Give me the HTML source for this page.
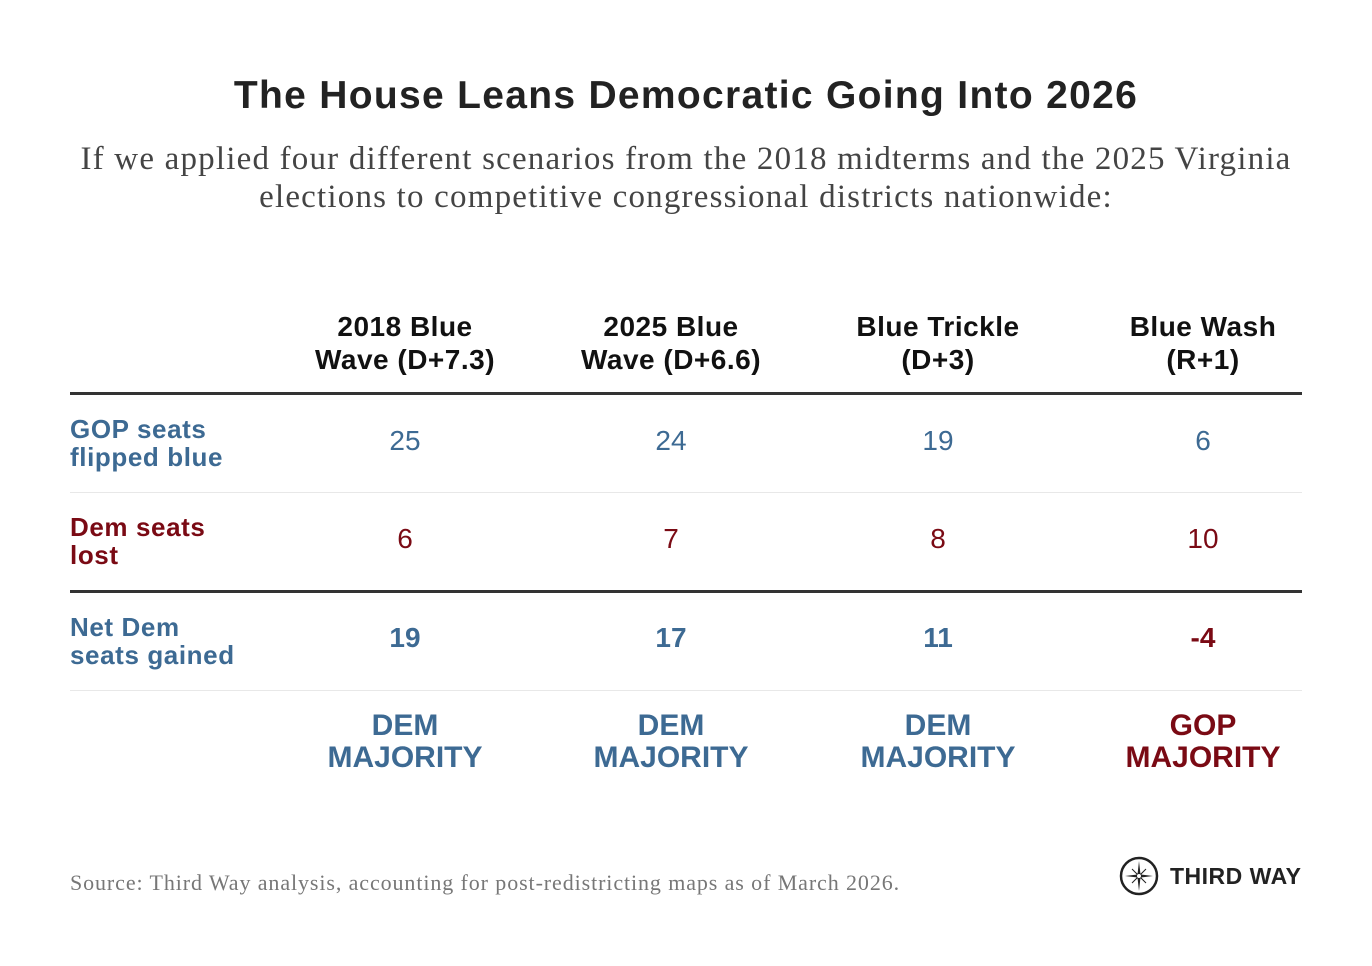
<!DOCTYPE html>
<html><head><meta charset="utf-8"><style>
body{margin:0;width:1372px;height:966px;background:#fff;position:relative;font-family:"Liberation Sans",sans-serif;overflow:hidden}
.a{position:absolute;white-space:nowrap}
.c{position:absolute;text-align:center;transform:translateX(-50%)}
.t{font-weight:bold;font-size:39px;color:#222;left:0;width:1372px;text-align:center;top:74px;letter-spacing:1.3px}
.sub{font-family:"Liberation Serif",serif;font-size:33px;color:#444;left:0;width:1372px;text-align:center;top:140px;line-height:38px;letter-spacing:1.2px}
.h{font-weight:bold;font-size:28px;color:#111;line-height:33px;top:310px;width:260px;letter-spacing:0.5px}
.lab{font-weight:bold;font-size:26px;line-height:28px;left:70px;letter-spacing:0.6px}
.b{color:#3d6a93}.r{color:#7a0a14}
.n{font-size:28px;width:100px}
.m{font-weight:bold;font-size:30px;line-height:32px;top:710px;width:260px}
.line{position:absolute;left:70px;width:1232px}
</style></head><body>
<div class="a t">The House Leans Democratic Going Into 2026</div>
<div class="a sub">If we applied four different scenarios from the 2018 midterms and the 2025 Virginia<br>elections to competitive congressional districts nationwide:</div>

<div class="c h" style="left:405px">2018 Blue<br>Wave (D+7.3)</div>
<div class="c h" style="left:671px">2025 Blue<br>Wave (D+6.6)</div>
<div class="c h" style="left:938px">Blue Trickle<br>(D+3)</div>
<div class="c h" style="left:1203px">Blue Wash<br>(R+1)</div>

<div class="line" style="top:392px;height:3px;background:#333"></div>
<div class="line" style="top:492px;height:1px;background:#e8e8e8"></div>
<div class="line" style="top:590px;height:3px;background:#333"></div>
<div class="line" style="top:690px;height:1px;background:#e8e8e8"></div>

<div class="a lab b" style="top:415px">GOP seats<br>flipped blue</div>
<div class="a lab r" style="top:513px">Dem seats<br>lost</div>
<div class="a lab b" style="top:613px">Net Dem<br>seats gained</div>

<div class="c n b" style="left:405px;top:425px">25</div>
<div class="c n b" style="left:671px;top:425px">24</div>
<div class="c n b" style="left:938px;top:425px">19</div>
<div class="c n b" style="left:1203px;top:425px">6</div>
<div class="c n r" style="left:405px;top:523px">6</div>
<div class="c n r" style="left:671px;top:523px">7</div>
<div class="c n r" style="left:938px;top:523px">8</div>
<div class="c n r" style="left:1203px;top:523px">10</div>
<div class="c n b" style="left:405px;top:622px;font-weight:bold">19</div>
<div class="c n b" style="left:671px;top:622px;font-weight:bold">17</div>
<div class="c n b" style="left:938px;top:622px;font-weight:bold">11</div>
<div class="c n r" style="left:1203px;top:622px;font-weight:bold">-4</div>

<div class="c m b" style="left:405px">DEM<br>MAJORITY</div>
<div class="c m b" style="left:671px">DEM<br>MAJORITY</div>
<div class="c m b" style="left:938px">DEM<br>MAJORITY</div>
<div class="c m r" style="left:1203px">GOP<br>MAJORITY</div>

<div class="a" style="left:70px;top:870px;font-family:'Liberation Serif',serif;font-size:22px;color:#777;letter-spacing:0.9px">Source: Third Way analysis, accounting for post-redistricting maps as of March 2026.</div>
<svg class="a" style="left:1119px;top:856px" width="40" height="40" viewBox="0 0 40 40">
<circle cx="20" cy="20" r="18" fill="none" stroke="#222" stroke-width="2.5"/>
<path d="M20 5 L21.5 18.5 L34 20 L21.5 21.5 L20 35 L18.5 21.5 L6 20 L18.5 18.5Z" fill="#222"/>
<path d="M13 13 L27 27 M13 27 L27 13" stroke="#222" stroke-width="1"/>
<circle cx="20" cy="20" r="2.5" fill="#fff" stroke="#222"/>
</svg>
<div class="a" style="left:1170px;top:863px;font-weight:bold;font-size:23px;color:#222;letter-spacing:0.5px">THIRD WAY</div>
</body></html>
